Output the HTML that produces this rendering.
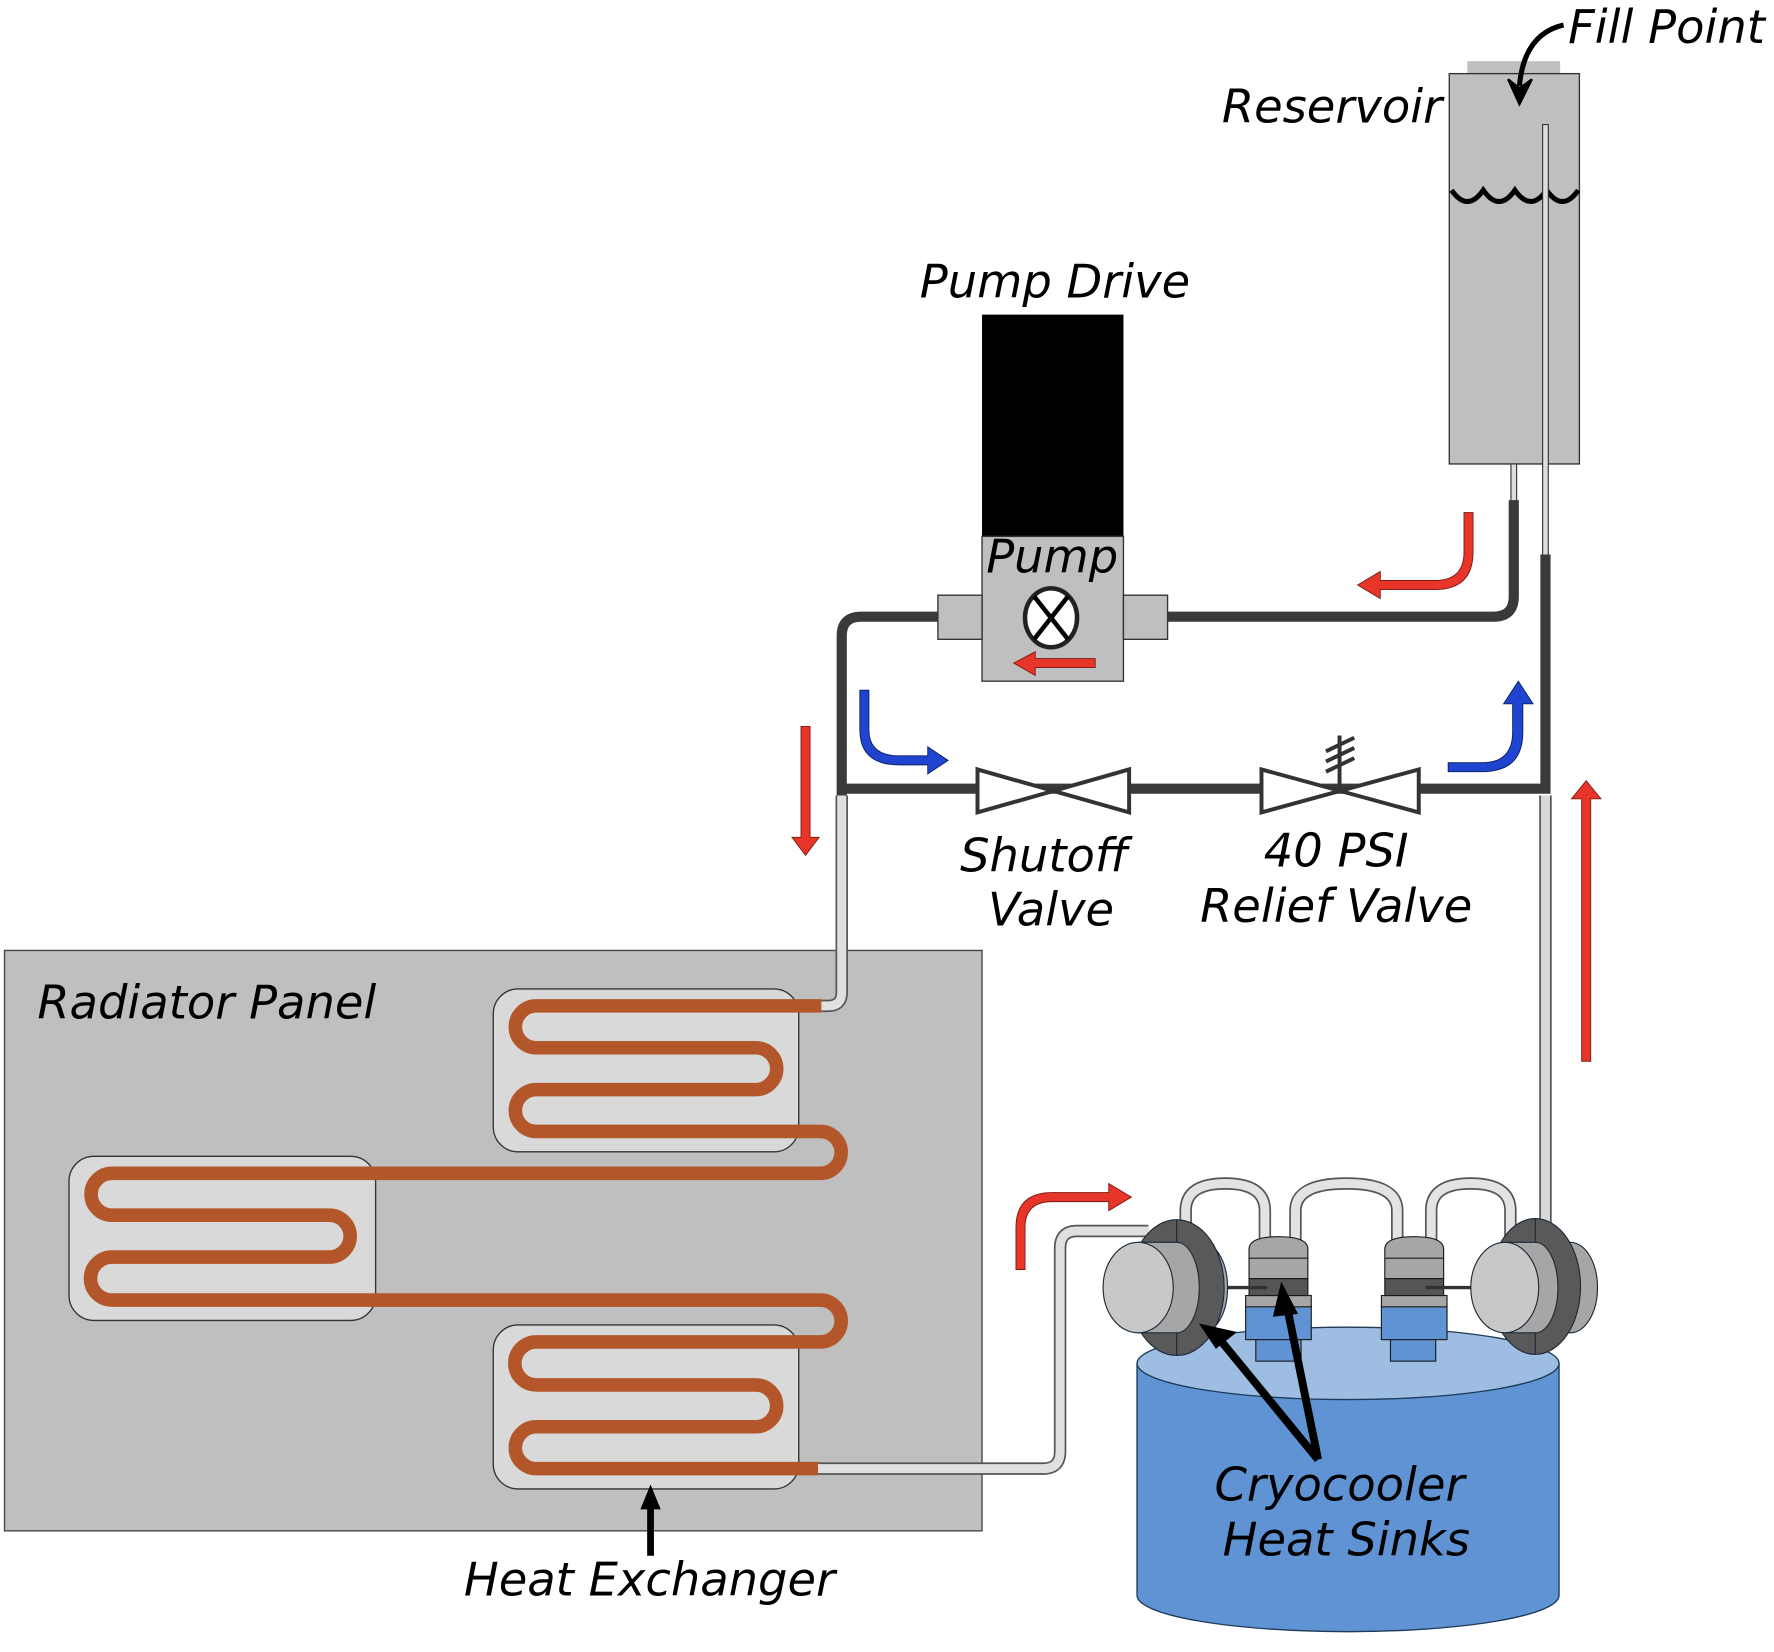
<!DOCTYPE html>
<html><head><meta charset="utf-8"><style>
html,body{margin:0;padding:0;background:#fff;}
svg{display:block;}
text{font-family:"DejaVu Sans","Liberation Sans",sans-serif;font-style:italic;font-size:41px;fill:#000;}
</style></head><body>
<svg width="1774" height="1652" viewBox="0 0 1568 1460" xmlns="http://www.w3.org/2000/svg">
<!-- Radiator panel -->
<rect x="4" y="840" width="864" height="513" fill="#bfbfbf" stroke="#444" stroke-width="1.2"/>
<text x="33" y="900">Radiator Panel</text>
<rect x="436" y="874" width="270" height="144" rx="22" fill="#d9d9d9" stroke="#333" stroke-width="1.2"/>
<rect x="61" y="1022" width="271" height="145" rx="22" fill="#d9d9d9" stroke="#333" stroke-width="1.2"/>
<rect x="436" y="1171" width="270" height="145" rx="22" fill="#d9d9d9" stroke="#333" stroke-width="1.2"/>
<!-- copper -->
<path d="M726,889 L474,889 A18.5,18.5 0 0 0 474,926 L668,926 A18.5,18.5 0 0 1 668,963 L474,963 A18.5,18.5 0 0 0 474,1000 L725,1000 A18.5,18.5 0 0 1 725,1037 L99,1037 A18.5,18.5 0 0 0 99,1074 L291,1074 A18.5,18.5 0 0 1 291,1111 L99,1111 A19,19 0 0 0 99,1149 L725,1149 A18.5,18.5 0 0 1 725,1186 L474,1186 A19,19 0 0 0 474,1224 L668,1224 A18.5,18.5 0 0 1 668,1261 L474,1261 A18.5,18.5 0 0 0 474,1298 L723,1298" fill="none" stroke="#b3572a" stroke-width="12"/>
<!-- light pipes -->
<g fill="none" stroke-linejoin="round">
<path d="M726,889 L732,889 Q744,889 744,877 L744,703" stroke="#555" stroke-width="11"/>
<path d="M726,889 L732,889 Q744,889 744,877 L744,703" stroke="#e0e0e0" stroke-width="8"/>
<path d="M723,1298 L922,1298 Q937,1298 937,1283 L937,1103 Q937,1088 952,1088 L1015,1088" stroke="#555" stroke-width="11"/>
<path d="M723,1298 L922,1298 Q937,1298 937,1283 L937,1103 Q937,1088 952,1088 L1015,1088" stroke="#e0e0e0" stroke-width="8"/>
<path d="M1366,703 L1366,1090" stroke="#555" stroke-width="11"/>
<path d="M1366,703 L1366,1090" stroke="#d8d8d8" stroke-width="8"/>
</g>
<!-- reservoir -->
<rect x="1297" y="54" width="82" height="12" fill="#bfbfbf"/>
<rect x="1281" y="65" width="115" height="345" fill="#bfbfbf" stroke="#333" stroke-width="1.2"/>
<path d="M1283,168 Q1297,188 1311,168 Q1325,188 1339,168 Q1353,188 1367,168 Q1381,188 1395,168" fill="none" stroke="#000" stroke-width="4.5"/>
<rect x="1363.5" y="110" width="5" height="382" fill="#ddd" stroke="#333" stroke-width="1"/>
<rect x="1335.5" y="410" width="5" height="34" fill="#ddd" stroke="#333" stroke-width="1"/>
<path d="M1382,22 Q1347,30 1343,76" fill="none" stroke="#000" stroke-width="4.5"/>
<path d="M1333,70 L1343,92 L1354,70 L1343,78 Z" fill="#000" stroke="#000" stroke-width="2"/>
<text x="1386" y="38">Fill Point</text>
<text x="1080" y="108">Reservoir</text>
<!-- dark pipes -->
<g fill="none" stroke="#3a3a3a" stroke-width="9" stroke-linejoin="miter">
<path d="M744,703 L744,562 Q744,545 761,545 L830,545"/>
<path d="M1032,545 L1320,545 Q1338,545 1338,527 L1338,442"/>
<path d="M1366,490 L1366,697 L740,697"/>
</g>
<!-- pump -->
<rect x="868" y="278" width="125" height="196" fill="#000"/>
<rect x="868" y="474" width="125" height="128" fill="#bfbfbf" stroke="#333" stroke-width="1.2"/>
<rect x="829" y="526" width="39" height="39" fill="#bfbfbf" stroke="#333" stroke-width="1.2"/>
<rect x="993" y="526" width="39" height="39" fill="#bfbfbf" stroke="#333" stroke-width="1.2"/>
<ellipse cx="929" cy="546" rx="23" ry="26" fill="#fff" stroke="#222" stroke-width="4"/>
<path d="M914,527 L944,565 M944,527 L914,565" stroke="#000" stroke-width="4"/>
<text x="930" y="506" text-anchor="middle">Pump</text>
<text x="813" y="263">Pump Drive</text>
<path d="M968,582 L915,582 L915,576 L896,586 L915,597 L915,590 L968,590 Z" fill="#e8352a" stroke="#7a1a10" stroke-width="0.8"/>
<!-- valves -->
<path d="M864,680 L998,718 L998,680 L864,718 Z" fill="#fff" stroke="#333" stroke-width="3.5" stroke-linejoin="miter"/>
<path d="M1115,680 L1254,718 L1254,680 L1115,718 Z" fill="#fff" stroke="#333" stroke-width="3.5"/>
<path d="M1184,697 L1184,650 M1172,664 L1197,652 M1172,673 L1197,661 M1172,682 L1197,670" stroke="#333" stroke-width="3.5"/>
<text x="923" y="770" text-anchor="middle">Shutoff</text>
<text x="929" y="818" text-anchor="middle">Valve</text>
<text x="1181" y="766" text-anchor="middle">40 PSI</text>
<text x="1181" y="815" text-anchor="middle">Relief Valve</text>
<!-- arrows -->
<g stroke-width="0.8">
<path d="M708,642 L716,642 L716,740 L724,740 L712,756 L700,740 L708,740 Z" fill="#e8352a" stroke="#7a1a10"/>
<path d="M1398,938 L1406,938 L1406,706 L1415,706 L1402,690 L1389,706 L1398,706 Z" fill="#e8352a" stroke="#7a1a10"/>
<path d="M1294,453 L1302,453 L1302,488 Q1302,521 1268,521 L1220,521 L1220,529 L1200,517 L1220,505 L1220,513 L1268,513 Q1294,513 1294,488 Z" fill="#e8352a" stroke="#7a1a10"/>
<path d="M760,610 L768,610 L768,645 Q768,668 795,668 L820,668 L820,660 L838,672 L820,684 L820,676 L795,676 Q760,676 760,645 Z" fill="#1f44d0" stroke="#0a1f60"/>
<path d="M1280,682 L1280,674 L1310,674 Q1337,674 1337,647 L1337,622 L1329,622 L1342,602 L1355,622 L1346,622 L1346,647 Q1346,682 1310,682 Z" fill="#1f44d0" stroke="#0a1f60"/>
<path d="M898,1122 L898,1085 Q898,1054 930,1054 L980,1054 L980,1046 L1000,1058 L980,1070 L980,1062 L930,1062 Q906,1062 906,1085 L906,1122 Z" fill="#e8352a" stroke="#7a1a10"/>
</g>
<path d="M575,1375 L575,1330" stroke="#000" stroke-width="6"/>
<path d="M566,1334 L575,1312 L584,1334 Z" fill="#000"/>
<text x="410" y="1410">Heat Exchanger</text>
<!-- tank -->
<path d="M1005,1205 L1005,1410 A186,32 0 0 0 1378,1410 L1378,1205 Z" fill="#5f93d3" stroke="#1f3b5a" stroke-width="1.2"/>
<ellipse cx="1191.5" cy="1205" rx="186.5" ry="32" fill="#9dbde3" stroke="#1f3b5a" stroke-width="1.2"/>
<!-- U tubes -->
<g fill="none">
<path d="M1048,1095 L1048,1070 Q1048,1046 1083,1046 Q1118,1046 1118,1070 L1118,1098" stroke="#555" stroke-width="11"/>
<path d="M1048,1095 L1048,1070 Q1048,1046 1083,1046 Q1118,1046 1118,1070 L1118,1098" stroke="#e3e3e3" stroke-width="8"/>
<path d="M1145,1098 L1145,1070 Q1145,1046 1190,1046 Q1235,1046 1235,1070 L1235,1098" stroke="#555" stroke-width="11"/>
<path d="M1145,1098 L1145,1070 Q1145,1046 1190,1046 Q1235,1046 1235,1070 L1235,1098" stroke="#e3e3e3" stroke-width="8"/>
<path d="M1265,1098 L1265,1070 Q1265,1046 1300,1046 Q1335,1046 1335,1070 L1335,1095" stroke="#555" stroke-width="11"/>
<path d="M1265,1098 L1265,1070 Q1265,1046 1300,1046 Q1335,1046 1335,1070 L1335,1095" stroke="#e3e3e3" stroke-width="8"/>
</g>
<!-- middle sinks -->
<g stroke="#1a1a1a" stroke-width="1">
<rect x="1110" y="1183" width="40" height="20" fill="#5f93d3"/>
<rect x="1101" y="1154" width="58" height="30" fill="#5f93d3"/>
<rect x="1101" y="1145" width="58" height="10" fill="#a6a6a6"/>
<rect x="1104" y="1130" width="52" height="15" fill="#555"/>
<path d="M1104,1130 L1104,1104 Q1104,1093 1130,1093 Q1156,1093 1156,1104 L1156,1130 Z" fill="#a6a6a6"/>
<path d="M1104,1112 L1156,1112" />
<rect x="1229" y="1183" width="40" height="20" fill="#5f93d3"/>
<rect x="1221" y="1154" width="58" height="30" fill="#5f93d3"/>
<rect x="1221" y="1145" width="58" height="10" fill="#a6a6a6"/>
<rect x="1224" y="1130" width="52" height="15" fill="#555"/>
<path d="M1224,1130 L1224,1104 Q1224,1093 1250,1093 Q1276,1093 1276,1104 L1276,1130 Z" fill="#a6a6a6"/>
<path d="M1224,1112 L1276,1112"/>
</g>
<path d="M1080,1138 L1120,1138 M1260,1138 L1302,1138" stroke="#333" stroke-width="3"/>
<!-- left cryo -->
<g stroke="#1a2a3a" stroke-width="1">
<ellipse cx="1065" cy="1138" rx="20" ry="38" fill="#a6a6a6"/>
<ellipse cx="1040" cy="1138" rx="42" ry="60" fill="#595959"/>
<path d="M1040,1078 L1040,1198"/>
<path d="M1006,1098 L1040,1098 A20,40 0 0 1 1040,1178 L1006,1178 Z" fill="#a6a6a6"/>
<ellipse cx="1006" cy="1138" rx="31" ry="40" fill="#c8c8c8"/>
</g>
<!-- right cryo -->
<g stroke="#1a2a3a" stroke-width="1">
<ellipse cx="1388" cy="1138" rx="24" ry="40" fill="#a6a6a6"/>
<ellipse cx="1357" cy="1137" rx="40" ry="60" fill="#595959"/>
<path d="M1357,1077 L1357,1197"/>
<path d="M1330,1098 L1357,1098 A20,40 0 0 1 1357,1178 L1330,1178 Z" fill="#a6a6a6"/>
<ellipse cx="1330" cy="1138" rx="30" ry="40" fill="#c8c8c8"/>
</g>
<!-- pointers -->
<path d="M1165,1290 L1075,1180 M1165,1290 L1137,1152" stroke="#000" stroke-width="7" fill="none"/>
<path d="M1063,1172 L1090,1178 L1075,1190 Z" fill="#000" stroke="#000" stroke-width="3"/>
<path d="M1133,1137 L1127,1162 L1145,1160 Z" fill="#000" stroke="#000" stroke-width="3"/>
<text x="1184" y="1326" text-anchor="middle">Cryocooler</text>
<text x="1190" y="1375" text-anchor="middle">Heat Sinks</text>
</svg>
</body></html>
